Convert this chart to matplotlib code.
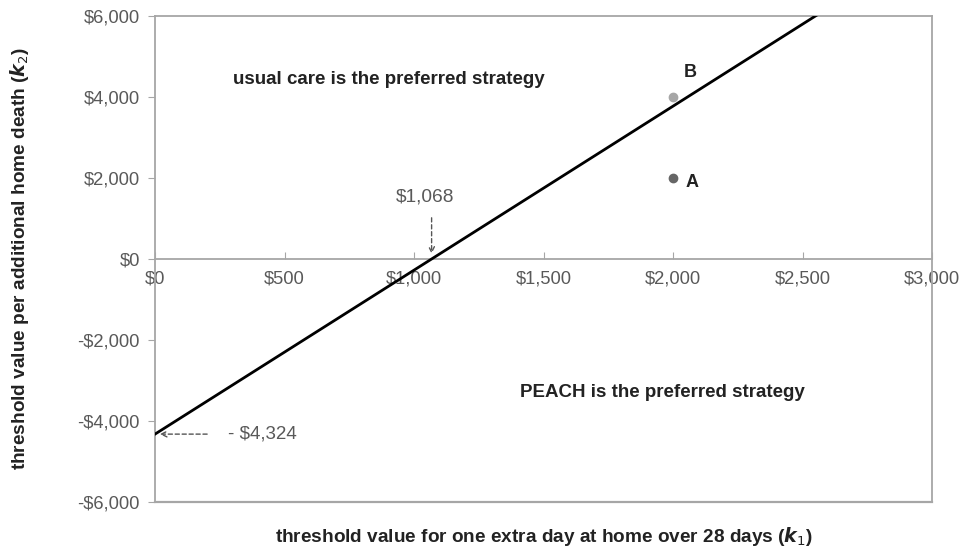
import matplotlib
matplotlib.use("Agg")
import matplotlib.pyplot as plt
import numpy as np

plt.rcParams['font.family'] = ['Liberation Sans', 'DejaVu Sans']

# Data
k1_intercept = 1068      # k1 where threshold line crosses k2 = 0
k2_intercept = -4324     # k2 where threshold line crosses k1 = 0
x_ticks = [0, 500, 1000, 1500, 2000, 2500, 3000]
x_tick_labels = ["$0", "$500", "$1,000", "$1,500", "$2,000", "$2,500", "$3,000"]
y_ticks = [-6000, -4000, -2000, 0, 2000, 4000, 6000]
y_tick_labels = ["-$6,000", "-$4,000", "-$2,000", "$0", "$2,000", "$4,000", "$6,000"]
point_names = ["A", "B"]
point_x = [2000, 2000]
point_y = [2000, 4000]
point_colors = ["#666666", "#a6a6a6"]

fig = plt.figure(figsize=(9.74, 5.5), dpi=100)
ax = fig.add_axes([155/974, 1-502/550, (932-155)/974, (502-16)/550])
ax.set_xlim(0, 3000)
ax.set_ylim(-6000, 6000)

gray_spine = "#a6a6a6"
gray_text = "#595959"

# threshold line
slope = -k2_intercept / k1_intercept
xs = np.array([0, 3000])
ys = k2_intercept + slope * xs
ax.plot(xs, ys, color="black", lw=2, zorder=3)

# points
for n, x, y, c in zip(point_names, point_x, point_y, point_colors):
    ax.plot([x], [y], 'o', color=c, ms=6, zorder=4)

ax.text(2066, 4593, "B", fontsize=13, fontweight="bold", ha="center", va="center", color="#222222")
ax.text(2073, 1877, "A", fontsize=13, fontweight="bold", ha="center", va="center", color="#222222")

ax.text(903, 4420, "usual care is the preferred strategy", fontsize=13.5, fontweight="bold",
        ha="center", va="center", color="#222222")
ax.text(1958, -3284, "PEACH is the preferred strategy", fontsize=13.5, fontweight="bold",
        ha="center", va="center", color="#222222")

# annotations
ax.annotate("", xy=(k1_intercept, 60), xytext=(k1_intercept, 1086),
            arrowprops=dict(arrowstyle="->", linestyle=(0, (3, 2)), color="#555555", lw=1))
ax.text(1042, 1531, "$1,068", fontsize=13.8, ha="center", va="center", color=gray_text)
ax.annotate("", xy=(8, k2_intercept), xytext=(212, k2_intercept),
            arrowprops=dict(arrowstyle="->", linestyle=(0, (3, 2)), color="#555555", lw=1))
ax.text(280, k2_intercept, "- $4,324", fontsize=13.5, ha="left", va="center", color=gray_text)

# spines / axes
ax.spines['bottom'].set_position(('data', 0))
for s in ax.spines.values():
    s.set_color(gray_spine)
    s.set_linewidth(1.3)
ax.axhline(-6000, color=gray_spine, lw=1.6, clip_on=False, zorder=1)

ax.set_xticks(x_ticks)
ax.set_xticklabels(x_tick_labels)
ax.set_yticks(y_ticks)
ax.set_yticklabels(y_tick_labels)
ax.tick_params(axis='x', direction='in', length=5, color=gray_spine, labelcolor=gray_text,
               labelsize=13.2, pad=8)
ax.tick_params(axis='y', direction='out', length=5, color=gray_spine, labelcolor=gray_text,
               labelsize=13.2, pad=6)

fig.text(20/974, 1-259/550, r"threshold value per additional home death ($\mathbfit{k}_2$)",
         rotation=90, ha="center", va="center", fontsize=13.7, fontweight="bold", color="#222222")
fig.text(544/974, 1-537/550, r"threshold value for one extra day at home over 28 days ($\mathbfit{k}_1$)",
         ha="center", va="center", fontsize=13.7, fontweight="bold", color="#222222")

fig.savefig("out.png", dpi=100)
